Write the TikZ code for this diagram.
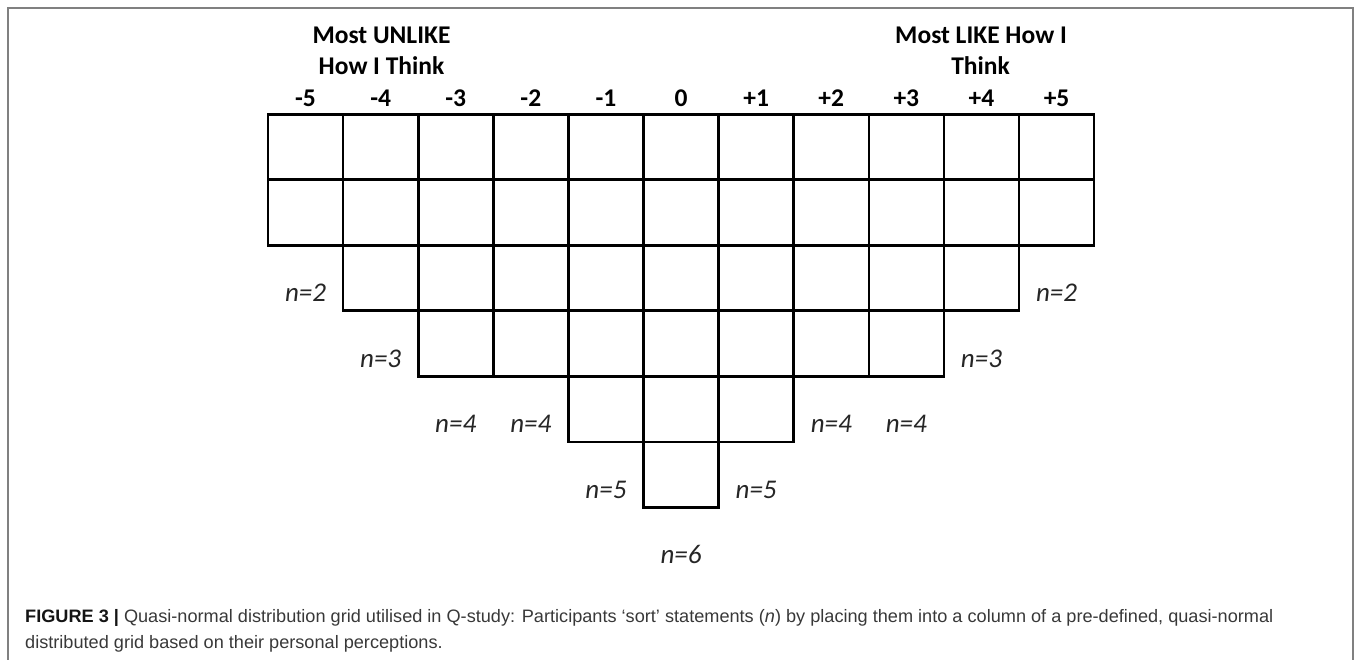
\documentclass[tikz,border=0pt]{standalone}
\usepackage{fontspec}
\usepackage{graphicx}
\setmainfont{Carlito}
\newfontfamily\capfont{Liberation Sans}
\newlength\capwidth
\begin{document}
\settowidth{\capwidth}{\capfont\fontsize{18}{20}\selectfont\textbf{FIGURE 3 |} Quasi-normal distribution grid utilised in Q-study: Participants ‘sort’ statements (\textit{n}) by placing them into a column of a pre-defined, quasi-normal}%
\pgfmathsetmacro\capratio{1248/\capwidth}%
\begin{tikzpicture}[x=1pt,y=-1pt,
  cell/.style={draw, line width=2.6pt, minimum width=75.1pt, minimum height=65.5pt, inner sep=0pt, outer sep=0pt},
  head/.style={font=\fontsize{25.5}{30}\selectfont\bfseries, anchor=base, inner sep=0pt},
  nlab/.style={font=\fontsize{27}{30}\selectfont\itshape, text=black!85, anchor=base, inner sep=0pt},
  captext/.style={font=\capfont\fontsize{18}{20}\selectfont, text=black!78, anchor=base west, inner sep=0pt}]
\useasboundingbox (0,0) rectangle (1360,660);
\draw[black!50, line width=1.3pt] (8,660) -- (8,8) -- (1353,8) -- (1353,660);
% grid cells
\foreach \n [count=\i from 0] in {2,3,4,4,5,6,5,4,4,3,2} {
  \foreach \r in {1,...,\n} {
    \node[cell] (c\i-\r) at ({305.55+75.1*\i},{147.05+65.5*(\r-1)}) {};
  }
  \node[nlab] (n\i) at ({305.55+75.1*\i},{114.3+65.5*(\n+1)-9}) {n=\n};
}
% column headings
\foreach \t [count=\i from 0] in {-5,-4,-3,-2,-1,0,+1,+2,+3,+4,+5} {
  \node[head] (h\i) at ({305.55+75.1*\i},106.7) {\t};
}
\node[head] (tl1) at (381.5,43.3) {Most UNLIKE};
\node[head] (tl2) at (381.5,74.3) {How I Think};
\node[head] (tr1) at (981,43.3) {Most LIKE How I};
\node[head] (tr2) at (980.5,74.8) {Think};
% caption
\node[captext] (cap1) at (25,622) {\scalebox{\capratio}[1]{\textcolor{black!92}{\textbf{FIGURE 3 |}} Quasi-normal distribution grid utilised in Q-study: Participants ‘sort’ statements (\textit{n}) by placing them into a column of a pre-defined, quasi-normal}};
\node[captext] (cap2) at (25,648.5) {\scalebox{\capratio}[1]{distributed grid based on their personal perceptions.}};
\end{tikzpicture}
\end{document}
